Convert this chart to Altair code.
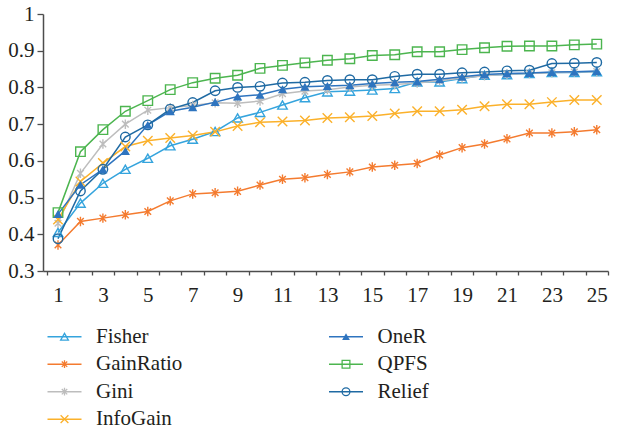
import altair as alt
import pandas as pd

x_vals = list(range(1, 26))
series_names = ["Fisher", "GainRatio", "Gini", "InfoGain", "OneR", "QPFS", "Relief"]

fisher = [0.405, 0.485, 0.539, 0.577, 0.607, 0.641, 0.659, 0.680, 0.717, 0.732, 0.752, 0.772, 0.788,
          0.790, 0.793, 0.797, 0.815, 0.815, 0.824, 0.833, 0.835, 0.838, 0.841, 0.841, 0.843]
gainratio = [0.371, 0.435, 0.444, 0.453, 0.462, 0.491, 0.510, 0.513, 0.517, 0.534, 0.550, 0.554, 0.563,
             0.570, 0.583, 0.588, 0.593, 0.616, 0.636, 0.646, 0.660, 0.676, 0.676, 0.679, 0.685]
gini = [0.430, 0.566, 0.646, 0.700, 0.738, 0.745, 0.751, 0.758, 0.757, 0.763, 0.783, 0.790, 0.794,
        0.801, 0.806, 0.808, 0.812, 0.818, 0.826, 0.832, 0.836, 0.838, 0.840, 0.842, 0.843]
infogain = [0.440, 0.544, 0.594, 0.639, 0.655, 0.662, 0.669, 0.679, 0.695, 0.705, 0.707, 0.710, 0.717,
            0.719, 0.722, 0.729, 0.735, 0.735, 0.739, 0.749, 0.754, 0.754, 0.760, 0.766, 0.766]
oner = [0.455, 0.535, 0.577, 0.627, 0.698, 0.735, 0.746, 0.760, 0.775, 0.780, 0.795, 0.802, 0.804,
        0.806, 0.811, 0.814, 0.816, 0.822, 0.829, 0.835, 0.838, 0.839, 0.842, 0.843, 0.845]
qpfs = [0.459, 0.625, 0.685, 0.735, 0.764, 0.794, 0.813, 0.825, 0.833, 0.852, 0.860, 0.867, 0.874,
        0.878, 0.887, 0.889, 0.897, 0.897, 0.903, 0.908, 0.912, 0.913, 0.913, 0.916, 0.918]
relief = [0.388, 0.518, 0.577, 0.665, 0.698, 0.741, 0.759, 0.791, 0.800, 0.803, 0.812, 0.814, 0.819,
          0.821, 0.821, 0.830, 0.836, 0.836, 0.840, 0.842, 0.845, 0.847, 0.865, 0.866, 0.868]
all_vals = [fisher, gainratio, gini, infogain, oner, qpfs, relief]

colors = ["#35a4dd", "#f47b2f", "#bdbdbd", "#fbb12b", "#2e74bf", "#4cb54f", "#1f6aa3"]
asterisk = "M-0.7,-0.7L0.7,0.7M-0.7,0.7L0.7,-0.7M0,-1L0,1"
xmark = "M-1,-1L1,1M-1,1L1,-1"
shapes = ["triangle-up", asterisk, asterisk, xmark, "triangle-up", "square", "circle"]

leg_col = [0, 0, 0, 0, 1, 1, 1]
leg_row = [0, 1, 2, 3, 0, 1, 2]

y_ticks = [0.3, 0.4, 0.5, 0.6, 0.7, 0.8, 0.9, 1.0]
x_ticks = [i + 0.5 for i in range(0, 26)]

rows = []
for name, vals in zip(series_names, all_vals):
    for xv, v in zip(x_vals, vals):
        rows.append({"series": name, "x": xv, "value": v})
df = pd.DataFrame(rows)
leg_df = pd.DataFrame({"series": series_names, "col": leg_col, "row": leg_row})

FONT = "Liberation Serif"
TXT = "#231f20"
FS = 21
W, H = 565, 257

color_scale = alt.Scale(domain=series_names, range=colors)
shape_scale = alt.Scale(domain=series_names, range=shapes)

xaxis = alt.Axis(values=x_ticks, title=None, grid=False, tickSize=4,
                 labelExpr="(datum.value + 0.5) % 2 == 1 ? format(datum.value + 0.5, 'd') : ''",
                 labelOffset=11.23, labelPadding=9, labelFlush=False, labelOverlap=False,
                 labelBound=False)
yaxis = alt.Axis(values=y_ticks, title=None, grid=False, tickSize=6, format=".1~f",
                 labelPadding=3, labelOverlap=False, labelFlush=False)

X = alt.X("x:Q", scale=alt.Scale(domain=[0.332, 25.5], nice=False, zero=False), axis=xaxis)
Y = alt.Y("value:Q", scale=alt.Scale(domain=[0.3, 1.0], nice=False, zero=False), axis=yaxis)
C = alt.Color("series:N", scale=color_scale, legend=None)
S = alt.Shape("series:N", scale=shape_scale, legend=None)

base = alt.Chart(df)
lines = base.mark_line(strokeWidth=1.5).encode(X, Y, C)
pts_open = base.transform_filter(alt.datum.series != "OneR").mark_point(
    filled=False, size=90, strokeWidth=1.4, opacity=1).encode(X, Y, C, S)
pts_fill = base.transform_filter(alt.datum.series == "OneR").mark_point(
    filled=True, size=85, opacity=1).encode(X, Y, C, S)
main = alt.layer(lines, pts_open, pts_fill)

LX = alt.X("col:Q", scale=alt.Scale(domain=[0, 1], range=[21.5, 303], nice=False, zero=False), axis=None)
LY = alt.Y("row:Q", scale=alt.Scale(domain=[0, 3], range=[322.7, 405.2], nice=False, zero=False), axis=None)
lbase = alt.Chart(leg_df)
leg_lines = lbase.mark_rule(strokeWidth=1.5, xOffset=-17, x2Offset=17).encode(
    LX, LY, x2="col:Q", color=C)
leg_open = lbase.transform_filter(alt.datum.series != "OneR").mark_point(
    filled=False, size=60, strokeWidth=1.3, opacity=1).encode(LX, LY, C, S)
leg_fill = lbase.transform_filter(alt.datum.series == "OneR").mark_point(
    filled=True, size=60, opacity=1).encode(LX, LY, C, S)
leg_text = lbase.mark_text(align="left", baseline="middle", dx=31.5, font=FONT,
                           fontSize=FS, color=TXT).encode(LX, LY, text="series:N")
legend = alt.layer(leg_lines, leg_open, leg_fill, leg_text)

chart = alt.layer(main, legend).resolve_scale(x="independent", y="independent").properties(
    width=W, height=H, autosize="none",
    padding={"left": 43, "top": 14, "right": 10, "bottom": 163},
    background="white",
).configure_view(stroke=None).configure_axis(
    labelFont=FONT, labelFontSize=FS, labelColor=TXT,
    domainColor="#4d4d4d", tickColor="#4d4d4d", domainWidth=1.5, tickWidth=1.3,
)

chart.save("out.html", embed_options={"renderer": "svg", "actions": False})
